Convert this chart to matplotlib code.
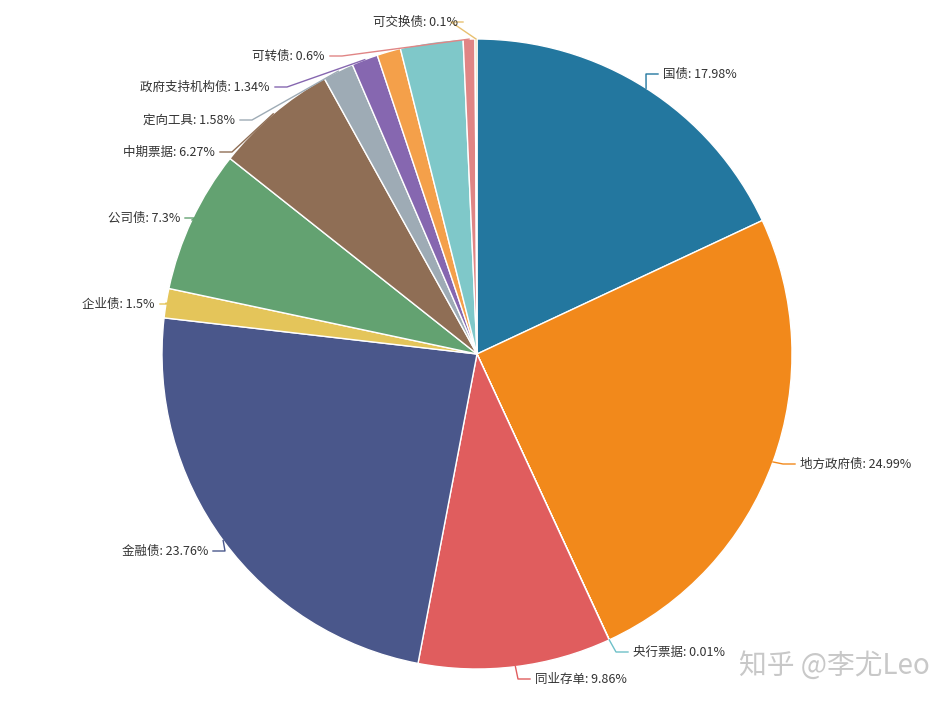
import matplotlib
matplotlib.use("Agg")
import matplotlib.pyplot as plt
import numpy as np

plt.rcParams['font.family'] = ['Noto Sans CJK SC', 'DejaVu Sans']

names = ['国债', '地方政府债', '央行票据', '同业存单', '金融债', '企业债', '公司债',
         '中期票据', '定向工具', '政府支持机构债', '其他1', '其他2', '可转债', '可交换债']
values = [17.98, 24.99, 0.01, 9.86, 23.76, 1.5, 7.3, 6.27, 1.58, 1.34, 1.21, 3.2, 0.6, 0.1]
show = [True, True, True, True, True, True, True, True, True, True, False, False, True, True]
colors = ['#23779f', '#f2891b', '#6ec0c8', '#e05d5e', '#4a578b', '#e4c55a', '#63a271',
          '#8f6e55', '#9eabb5', '#8667b0', '#f4a04a', '#7fc8c9', '#e08585', '#e8c070']
# label line end points (pixels) and side
label_pos = {'国债': (658, 74), '地方政府债': (795, 464), '央行票据': (628, 652),
             '同业存单': (530, 679), '金融债': (213, 551), '企业债': (160, 304),
             '公司债': (185, 218), '中期票据': (220, 152), '定向工具': (240, 120),
             '政府支持机构债': (275, 87), '可转债': (330, 56), '可交换债': (463, 22)}

W, H = 953, 704
fig = plt.figure(figsize=(W/100, H/100), dpi=100)
ax = fig.add_axes([0, 0, 1, 1])
ax.set_xlim(0, W); ax.set_ylim(0, H); ax.set_aspect('equal'); ax.axis('off')
cx, cy, R = 477, H - 354, 315
wedges, _ = ax.pie(values, colors=colors, startangle=90, counterclock=False,
                   center=(cx, cy), radius=R, frame=True,
                   wedgeprops=dict(edgecolor='white', linewidth=1))
ax.set_xlim(0, W); ax.set_ylim(0, H); ax.axis('off')

for w, n, v, s, c in zip(wedges, names, values, show, colors):
    if not s:
        continue
    ang = np.deg2rad((w.theta1 + w.theta2) / 2)
    p0 = (cx + R*np.cos(ang), cy + R*np.sin(ang))
    lx, ly = label_pos[n]
    ly = H - ly
    right = lx > cx or n == '可交换债'
    d = 1 if right else -1
    if n == '可交换债':
        d = 1
    elbow = (lx - 12*d, ly)
    ax.plot([p0[0], elbow[0], lx], [p0[1], elbow[1], ly], color=c, lw=1)
    txt = f'{n}: {v:g}%'
    if n == '可交换债':
        ax.text(lx - 5, ly, txt, ha='right', va='center', fontsize=9, color='#333333')
    elif right:
        ax.text(lx + 5, ly, txt, ha='left', va='center', fontsize=9, color='#333333')
    else:
        ax.text(lx - 5, ly, txt, ha='right', va='center', fontsize=9, color='#333333')

ax.text(930, H - 666, '知乎 @李尤Leo', ha='right', va='center', fontsize=20,
        color='#c8c8c8')
fig.savefig('out.png', dpi=100)
